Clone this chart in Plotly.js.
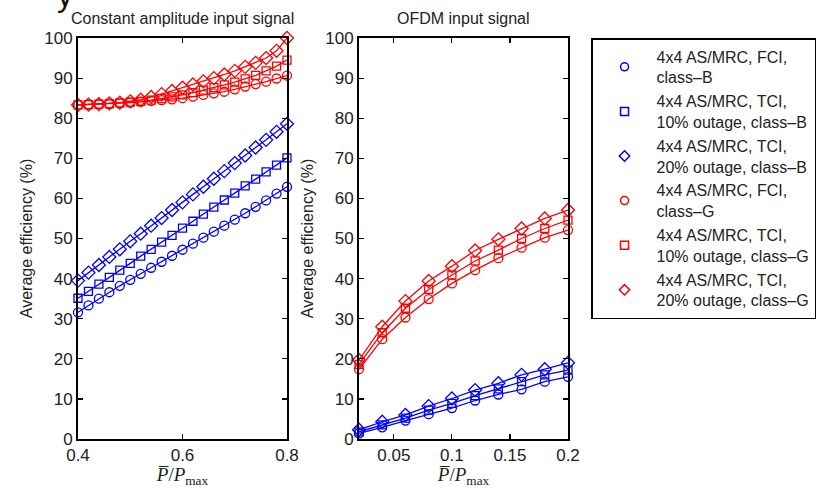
<!DOCTYPE html>
<html>
<head>
<meta charset="utf-8">
<script src="https://cdn.plot.ly/plotly-3.0.1.min.js"></script>
<style>
html, body { margin: 0; padding: 0; background: #fff; }
#chart { width: 821px; height: 488px; }
</style>
</head>
<body>
<div id="chart"></div>
<script>
// ---- Data ----
var xConst = [0.40, 0.42, 0.44, 0.46, 0.48, 0.50, 0.52, 0.54, 0.56, 0.58, 0.60,
              0.62, 0.64, 0.66, 0.68, 0.70, 0.72, 0.74, 0.76, 0.78, 0.80];
var constFciB  = [31.6, 33.3, 35.0, 36.6, 38.2, 39.7, 41.2, 42.7, 44.2, 45.7, 47.2,
                  48.7, 50.2, 51.7, 53.2, 54.7, 56.3, 57.9, 59.5, 61.2, 62.9];
var constTci10B = [35.1, 36.8, 38.6, 40.3, 42.1, 43.8, 45.6, 47.3, 49.1, 50.8, 52.6,
                   54.3, 56.1, 57.8, 59.6, 61.3, 63.1, 64.8, 66.6, 68.3, 70.1];
var constTci20B = [39.5, 41.5, 43.4, 45.4, 47.3, 49.3, 51.2, 53.2, 55.1, 57.1, 59.0,
                   61.0, 62.9, 64.9, 66.8, 68.8, 70.7, 72.7, 74.6, 76.6, 78.6];
var constFciG  = [83.3, 83.4, 83.5, 83.6, 83.7, 83.9, 84.1, 84.3, 84.5, 84.7, 85.0,
                  85.4, 85.8, 86.2, 86.6, 87.2, 87.9, 88.5, 89.1, 89.9, 90.6];
var constTci10G = [83.3, 83.4, 83.5, 83.6, 83.8, 84.0, 84.2, 84.5, 84.9, 85.3, 85.8,
                   86.4, 87.0, 87.6, 88.3, 89.0, 89.8, 90.7, 91.8, 93.0, 94.5];
var constTci20G = [83.3, 83.4, 83.5, 83.7, 83.9, 84.2, 84.6, 85.3, 86.0, 86.8, 87.6,
                   88.4, 89.2, 90.0, 90.9, 91.8, 92.8, 93.8, 95.0, 96.8, 100.0];

var xOfdm = [0.02, 0.04, 0.06, 0.08, 0.10, 0.12, 0.14, 0.16, 0.18, 0.20];
var ofdmFciB   = [1.4, 2.9, 4.6, 6.2, 7.7, 9.6, 11.1, 12.4, 14.3, 15.5];
var ofdmTci10B = [1.8, 3.5, 5.2, 7.2, 8.9, 10.8, 12.5, 14.3, 16.0, 17.2];
var ofdmTci20B = [2.3, 4.3, 6.0, 8.2, 10.1, 12.2, 13.9, 16.0, 17.4, 19.0];
var ofdmFciG   = [17.4, 24.9, 30.3, 34.9, 38.8, 42.1, 45.1, 47.7, 50.2, 52.1];
var ofdmTci10G = [18.6, 26.5, 32.6, 37.3, 40.9, 44.4, 47.1, 50.0, 52.5, 54.6];
var ofdmTci20G = [19.7, 28.0, 34.4, 39.4, 43.1, 47.0, 49.8, 52.5, 55.0, 57.1];

var seriesNames = [
  '4x4 AS/MRC, FCI,<br>class\u2013B',
  '4x4 AS/MRC, TCI,<br>10% outage, class\u2013B',
  '4x4 AS/MRC, TCI,<br>20% outage, class\u2013B',
  '4x4 AS/MRC, FCI,<br>class\u2013G',
  '4x4 AS/MRC, TCI,<br>10% outage, class\u2013G',
  '4x4 AS/MRC, TCI,<br>20% outage, class\u2013G'
];
var panelTitles = ['Constant amplitude input signal', 'OFDM input signal'];
var yTitle = 'Average efficiency (%)';
var xTitle = '<i>P\u0305</i>/<i>P</i><sub>max</sub>';
var cutText = 'y';

// ---- Styles ----
var BLUE = 'rgb(0,0,255)', RED = 'rgb(255,0,0)';
var colors = [BLUE, BLUE, BLUE, RED, RED, RED];
var symbols = ['circle-open', 'square-open', 'diamond-open', 'circle-open', 'square-open', 'diamond-open'];
var sizes = [9, 8, 10, 9, 8, 10];

var constSeries = [constFciB, constTci10B, constTci20B, constFciG, constTci10G, constTci20G];
var ofdmSeries = [ofdmFciB, ofdmTci10B, ofdmTci20B, ofdmFciG, ofdmTci10G, ofdmTci20G];

var traces = [];
for (var i = 0; i < 6; i++) {
  traces.push({
    x: xConst, y: constSeries[i], xaxis: 'x', yaxis: 'y',
    mode: 'lines+markers', showlegend: false, cliponaxis: false,
    line: {color: colors[i], width: 1.3},
    marker: {symbol: symbols[i], size: sizes[i], color: colors[i], line: {width: 1.3, color: colors[i]}}
  });
  traces.push({
    x: xOfdm, y: ofdmSeries[i], xaxis: 'x2', yaxis: 'y2',
    mode: 'lines+markers', showlegend: false, cliponaxis: false,
    line: {color: colors[i], width: 1.3},
    marker: {symbol: symbols[i], size: sizes[i], color: colors[i], line: {width: 1.3, color: colors[i]}}
  });
}
for (var j = 0; j < 6; j++) {
  traces.push({
    x: [null], y: [null], xaxis: 'x', yaxis: 'y', name: seriesNames[j],
    mode: 'markers', showlegend: true,
    marker: {symbol: symbols[j], size: 8, color: colors[j], line: {width: 1.5, color: colors[j]}}
  });
}

var tickFont = {family: 'Liberation Sans, Arial, sans-serif', size: 17, color: '#222'};
var axisCommon = {
  showgrid: false, zeroline: false, showline: true, linecolor: '#000', linewidth: 2,
  mirror: 'ticks', ticks: 'inside', ticklen: 5, tickwidth: 1.2, tickcolor: '#000',
  tickfont: tickFont
};
function mergeAx(o) { var r = {}; for (var k in axisCommon) r[k] = axisCommon[k]; for (var k2 in o) r[k2] = o[k2]; return r; }

var layout = {
  width: 821, height: 488,
  paper_bgcolor: '#fff', plot_bgcolor: '#fff',
  margin: {l: 78, r: 253, t: 38, b: 49, autoexpand: false},
  font: {family: 'Liberation Sans, Arial, sans-serif', color: '#222'},
  xaxis: mergeAx({domain: [0, 0.4265], range: [0.4, 0.8], tickvals: [0.4, 0.6, 0.8], ticktext: ['0.4', '0.6', '0.8'],
    anchor: 'y',
    title: {text: xTitle, font: {family: 'Liberation Serif, Times New Roman, serif', size: 19, color: '#222'}, standoff: 6}}),
  yaxis: mergeAx({domain: [0, 1], range: [0, 100], dtick: 10, anchor: 'x',
    title: {text: yTitle, font: {size: 16, color: '#222'}, standoff: 8}}),
  xaxis2: mergeAx({domain: [0.5735, 1], range: [0.02, 0.2], tickvals: [0.05, 0.1, 0.15, 0.2], ticktext: ['0.05', '0.1', '0.15', '0.2'],
    anchor: 'y2',
    title: {text: xTitle, font: {family: 'Liberation Serif, Times New Roman, serif', size: 19, color: '#222'}, standoff: 6}}),
  yaxis2: mergeAx({domain: [0, 1], range: [0, 100], dtick: 10, anchor: 'x2',
    title: {text: yTitle, font: {size: 16, color: '#222'}, standoff: 8}}),
  legend: {
    x: 1.047, y: 1, xanchor: 'left', yanchor: 'top',
    bgcolor: '#fff', bordercolor: '#000', borderwidth: 1.5,
    font: {family: 'Liberation Sans, Arial, sans-serif', size: 16, color: '#222'},
    tracegroupgap: 0, itemwidth: 54
  },
  annotations: [
    {text: panelTitles[0], xref: 'paper', yref: 'paper', x: 0.2133, y: 1, xanchor: 'center', yanchor: 'bottom', yshift: 9,
     showarrow: false, font: {size: 16, color: '#222'}},
    {text: panelTitles[1], xref: 'paper', yref: 'paper', x: 0.7868, y: 1, xanchor: 'center', yanchor: 'bottom', yshift: 9,
     showarrow: false, font: {size: 16, color: '#222'}},
    {text: cutText, xref: 'paper', yref: 'paper', x: -0.027, y: 1, xanchor: 'center', yanchor: 'bottom', yshift: 23,
     showarrow: false, font: {size: 32, color: '#111'}}
  ]
};

Plotly.newPlot('chart', traces, layout, {displayModeBar: false, staticPlot: true});
</script>
</body>
</html>
